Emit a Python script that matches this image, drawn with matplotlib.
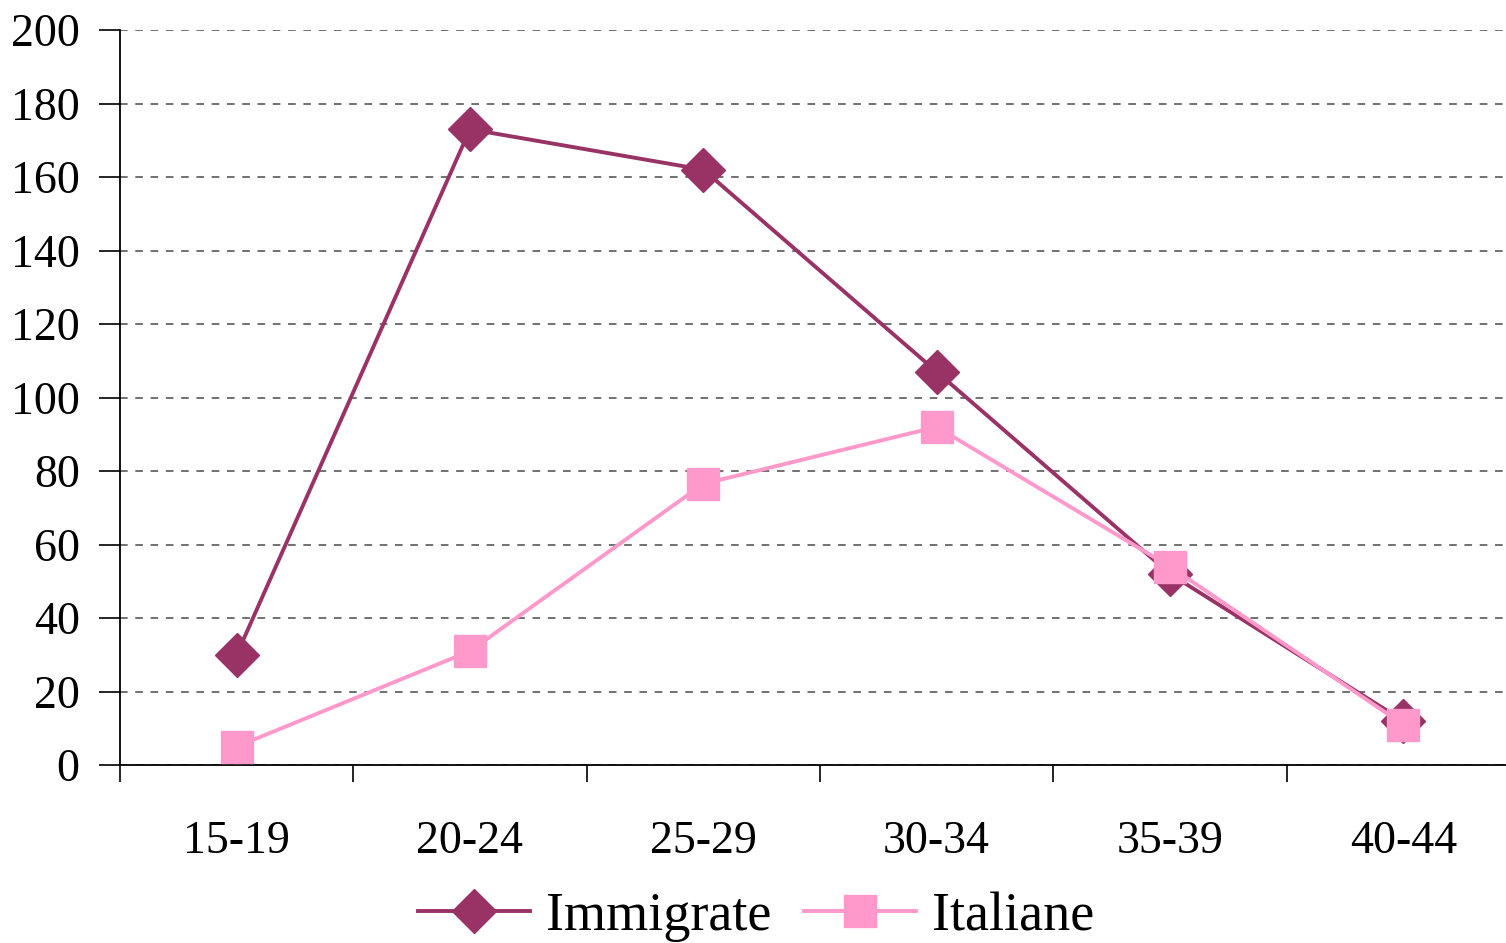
import matplotlib.pyplot as plt

# age groups and rates per group
classi = ['15-19', '20-24', '25-29', '30-34', '35-39', '40-44']
immigrate = [30, 173, 162, 107, 52, 12]
italiane = [5, 31, 76.5, 92, 54, 11]

plt.rcParams['font.family'] = ['Liberation Serif', 'DejaVu Serif']

fig = plt.figure(figsize=(15.06, 9.43), dpi=100)
W, H = 1506, 943
ax = fig.add_axes([120 / W, 1 - 765 / H, 1400 / W, 735 / H])

x = range(len(classi))
ax.plot(x, immigrate, color='#993366', lw=2.8, marker='D', ms=22,
        label='Immigrate', zorder=3)
ax.plot(x, italiane, color='#FF99CC', lw=2.8, marker='s', ms=23,
        label='Italiane', zorder=3)

ax.set_xlim(-0.5, 5.5)
ax.set_ylim(0, 200)
ax.set_yticks(range(0, 201, 20))
ax.set_xticks(x)
ax.set_xticklabels(classi)
ax.set_xticks([i - 0.5 for i in range(6)], minor=True)
ax.tick_params(axis='x', which='major', length=0, pad=40, labelsize=33)
ax.tick_params(axis='x', which='minor', length=12, width=1.2, direction='out')
ax.tick_params(axis='y', length=15, width=1.2, pad=14, labelsize=33)

ax.grid(axis='y', linestyle=(0, (5, 5)), color='#4a4a4a', lw=1.1)
ax.set_axisbelow(True)
for s in ['top', 'right']:
    ax.spines[s].set_visible(False)
for s in ['left', 'bottom']:
    ax.spines[s].set_linewidth(1.3)

fig.legend(loc='center', bbox_to_anchor=(756 / W, 1 - 917 / H), ncol=2,
           frameon=False, fontsize=39, handlelength=2.07, columnspacing=0.6,
           handletextpad=0.3, markerscale=1.0, borderpad=0)

fig.savefig('out.png', dpi=100)
